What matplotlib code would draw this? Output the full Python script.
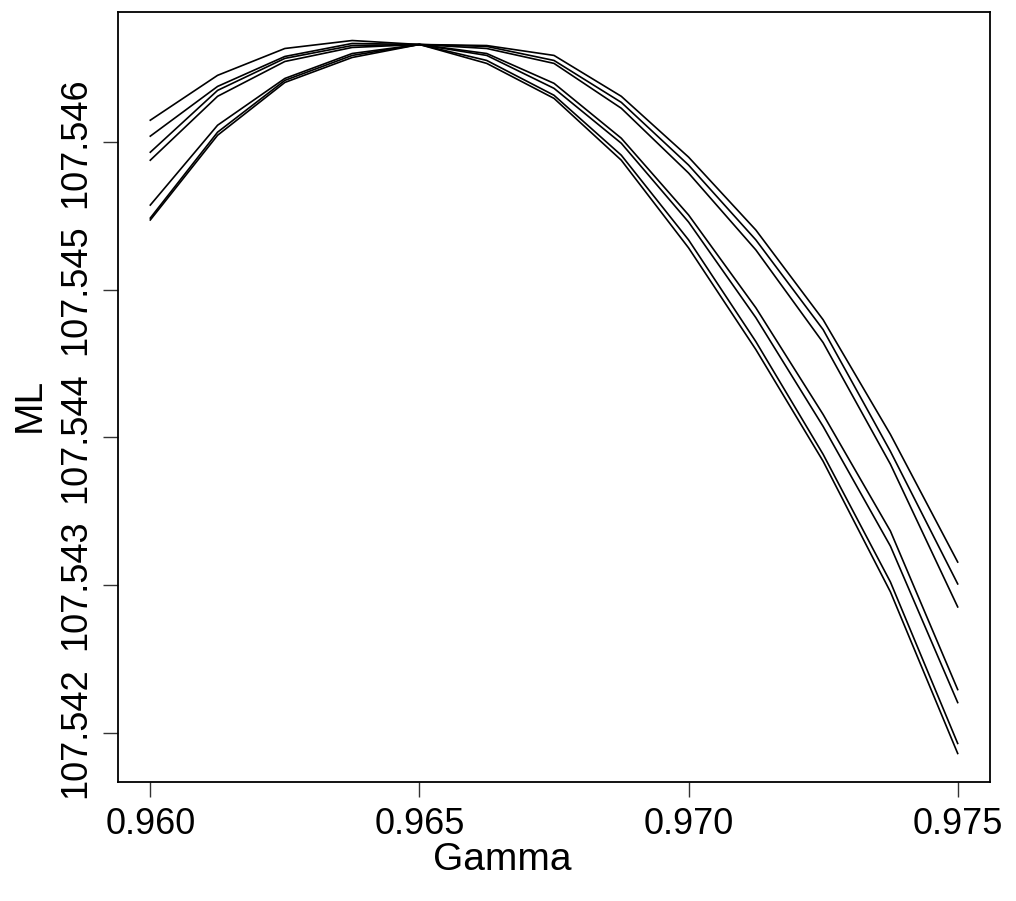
import matplotlib
matplotlib.use("Agg")
import matplotlib.pyplot as plt
import numpy as np

gamma = [0.960, 0.96125, 0.9625, 0.96375, 0.965, 0.96625, 0.9675,
         0.96875, 0.970, 0.97125, 0.9725, 0.97375, 0.975]

ml_a1 = [107.546149, 107.546453, 107.546635, 107.546689, 107.546662, 107.546534, 107.546297,
         107.545878, 107.545284, 107.544595, 107.543838, 107.542953, 107.541858]
ml_a2 = [107.546041, 107.546378, 107.546581, 107.546669, 107.546662, 107.546554, 107.546318,
         107.545912, 107.545338, 107.544649, 107.543885, 107.543020, 107.541926]
ml_a3 = [107.545932, 107.546351, 107.546568, 107.546655, 107.546662, 107.546588, 107.546365,
         107.545993, 107.545459, 107.544811, 107.544074, 107.543263, 107.542203]
ml_a4 = [107.545878, 107.546311, 107.546547, 107.546642, 107.546662, 107.546601, 107.546399,
         107.546027, 107.545507, 107.544878, 107.544155, 107.543365, 107.542291]
ml_b1 = [107.545574, 107.546115, 107.546432, 107.546601, 107.546662, 107.546635, 107.546534,
         107.546230, 107.545791, 107.545270, 107.544642, 107.543818, 107.542851]
ml_b2 = [107.545486, 107.546068, 107.546419, 107.546588, 107.546662, 107.546649, 107.546554,
         107.546270, 107.545845, 107.545338, 107.544730, 107.543905, 107.543007]
ml_b3 = [107.545473, 107.546047, 107.546405, 107.546574, 107.546662, 107.546655, 107.546588,
         107.546311, 107.545899, 107.545405, 107.544797, 107.544020, 107.543155]

series = [ml_a1, ml_a2, ml_a3, ml_a4, ml_b1, ml_b2, ml_b3]

xticks = [0.960, 0.965, 0.970, 0.975]
xtick_labels = ["0.960", "0.965", "0.970", "0.975"]
yticks = [107.542, 107.543, 107.544, 107.545, 107.546]
ytick_labels = ["107.542", "107.543", "107.544", "107.545", "107.546"]

plt.rcParams['font.family'] = ['Liberation Sans', 'DejaVu Sans']

fig = plt.figure(figsize=(10.16, 9.01), dpi=100)
ax = fig.add_axes([118/1016, 1 - 782/901, (990 - 118)/1016, (782 - 12)/901])

for s in series:
    ax.plot(gamma, s, color='black', lw=1.2)

allv = np.concatenate([np.asarray(s) for s in series])
ymin, ymax = allv.min(), allv.max()
yr = ymax - ymin
ax.set_ylim(ymin - 0.04 * yr, ymax + 0.04 * yr)
xr = gamma[-1] - gamma[0]
ax.set_xlim(gamma[0] - 0.04 * xr, gamma[-1] + 0.04 * xr)

ax.set_xticks(xticks)
ax.set_xticklabels(xtick_labels)
ax.set_yticks(yticks)
ax.set_yticklabels(ytick_labels, rotation=90, va='center')

ax.tick_params(axis='both', direction='out', length=11, width=1.0,
               labelsize=26, pad=7, color='#333333')
for sp in ax.spines.values():
    sp.set_linewidth(1.3)

fig.text(502/1016, 1 - 860/901, "Gamma", fontsize=28, ha='center', va='center')
fig.text(30/1016, 1 - 405/901, "ML", fontsize=28, ha='center', va='center', rotation=90)

fig.savefig("out.png", dpi=100)
